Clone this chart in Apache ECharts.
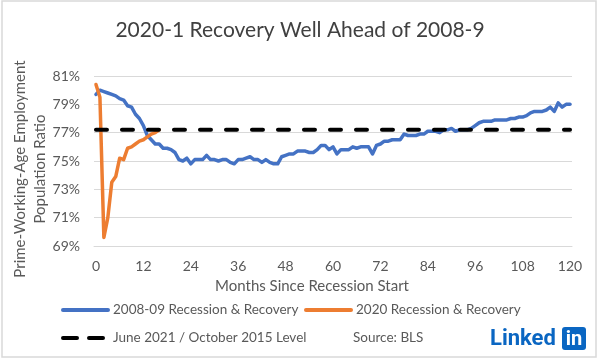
<!DOCTYPE html>
<html>
<head>
<meta charset="utf-8">
<script src="https://cdn.jsdelivr.net/npm/echarts@6/dist/echarts.min.js"></script>
<style>
html,body{margin:0;padding:0;background:#fff;}
#chart{width:600px;height:361px;}
</style>
</head>
<body>
<div id="chart"></div>
<script>
// Months since recession start (category axis)
const months = [];
for (let m = 0; m <= 120; m++) months.push(String(m));

// 2008-09 recession & recovery, prime-age employment-population ratio (%)
const recession2008 = [
  79.7, 80.0, 79.9, 79.8, 79.7, 79.6, 79.4, 79.3, 78.9, 78.8,
  78.3, 78.0, 77.5, 76.8, 76.5, 76.2, 76.2, 75.9, 75.9, 75.8,
  75.6, 75.1, 75.0, 75.2, 74.8, 75.1, 75.1, 75.1, 75.4, 75.1,
  75.1, 75.0, 75.1, 75.1, 74.9, 74.8, 75.1, 75.1, 75.2, 75.3,
  75.1, 75.1, 74.9, 75.1, 74.9, 74.8, 74.8, 75.3, 75.4, 75.5,
  75.5, 75.7, 75.7, 75.7, 75.6, 75.6, 75.8, 76.1, 76.1, 75.8,
  76.0, 75.5, 75.8, 75.8, 75.8, 76.0, 75.9, 76.0, 76.0, 76.0,
  75.5, 76.1, 76.2, 76.4, 76.4, 76.5, 76.5, 76.5, 76.9, 76.8,
  76.8, 76.8, 76.9, 76.9, 77.1, 77.1, 77.1, 77.0, 77.2, 77.2,
  77.3, 77.1, 77.2, 77.2, 77.2, 77.3, 77.5, 77.7, 77.8, 77.8,
  77.8, 77.9, 77.9, 77.9, 77.9, 78.0, 78.0, 78.1, 78.1, 78.2,
  78.4, 78.5, 78.5, 78.5, 78.6, 78.8, 78.5, 79.1, 78.8, 79.0,
  79.0
];

// 2020 recession & recovery (%)
const recession2020 = [
  80.4, 79.5, 69.6, 71.0, 73.5, 73.9, 75.2, 75.1, 75.9, 76.0,
  76.2, 76.4, 76.5, 76.7, 76.9, 77.0, 77.2
];

// June 2021 / October 2015 level (%), drawn from first to last month
const levelMonths = ['0', '120'];
const levelValues = [77.2, 77.2];

const yTicks = { min: 69, max: 81, interval: 2 };

const names = {
  s1: '2008-09 Recession & Recovery',
  s2: '2020 Recession & Recovery',
  s3: 'June 2021 / October 2015 Level'
};

const FONT = 'Lato';
const chart = echarts.init(document.getElementById('chart'), null, {renderer: 'canvas'});

const legendBase = {
  orient: 'horizontal',
  padding: 0,
  itemWidth: 45,
  itemHeight: 14,
  itemGap: 10,
  textStyle: {fontFamily: FONT, fontSize: 13.5, color: '#595959'},
  itemStyle: {opacity: 0},
  selectedMode: false
};

chart.setOption({
  animation: false,
  backgroundColor: '#ffffff',
  title: {
    text: '2020-1 Recovery Well Ahead of 2008-9',
    left: 'center',
    top: 15,
    textStyle: {fontFamily: FONT, fontSize: 21, fontWeight: 'normal', color: '#404040'}
  },
  grid: {left: 94, right: 28, top: 76, bottom: 115},
  legend: [
    Object.assign({}, legendBase, {data: [names.s1], left: 61, top: 303, lineStyle: {width: 4, opacity: 1}}),
    Object.assign({}, legendBase, {data: [names.s2], left: 304, top: 303, lineStyle: {width: 4, opacity: 1}}),
    Object.assign({}, legendBase, {data: [names.s3], left: 61, top: 331, lineStyle: {width: 4, opacity: 1, type: [14, 12], cap: 'round'}})
  ],
  xAxis: {
    type: 'category',
    data: months,
    boundaryGap: true,
    axisLine: {show: true, lineStyle: {color: '#d9d9d9', width: 1}},
    axisTick: {show: false},
    axisLabel: {
      interval: 11,
      margin: 13,
      fontFamily: FONT, fontSize: 14, color: '#595959'
    },
    splitLine: {show: false}
  },
  yAxis: {
    type: 'value',
    min: yTicks.min,
    max: yTicks.max,
    interval: yTicks.interval,
    axisLine: {show: false},
    axisTick: {show: false},
    axisLabel: {
      formatter: '{value}%',
      margin: 14,
      fontFamily: FONT, fontSize: 14, color: '#595959'
    },
    splitLine: {lineStyle: {color: '#d9d9d9', width: 1}}
  },
  series: [
    {
      name: names.s1,
      type: 'line',
      data: recession2008,
      symbol: 'none',
      lineStyle: {color: '#4472C4', width: 3.5, join: 'round', cap: 'round'},
      itemStyle: {color: '#4472C4'},
      z: 2
    },
    {
      name: names.s2,
      type: 'line',
      data: recession2020,
      symbol: 'none',
      lineStyle: {color: '#ED7D31', width: 3.5, join: 'round', cap: 'round'},
      itemStyle: {color: '#ED7D31'},
      z: 3
    },
    {
      name: names.s3,
      type: 'line',
      data: levelMonths.map((m, i) => [m, levelValues[i]]),
      symbol: 'none',
      lineStyle: {color: '#000000', width: 4, type: [11, 15], cap: 'round'},
      itemStyle: {color: '#000000'},
      z: 4
    }
  ],
  graphic: [
    {
      type: 'rect',
      shape: {x: 2, y: 1, width: 594, height: 356},
      style: {fill: 'none', stroke: '#d9d9d9', lineWidth: 1.5},
      silent: true,
      z: -10
    },
    {
      type: 'text',
      x: 30.5, y: 169,
      rotation: Math.PI / 2,
      style: {
        text: 'Prime-Working-Age Employment\nPopulation Ratio',
        fontFamily: FONT, fontSize: 15, fill: '#595959',
        align: 'center', verticalAlign: 'middle', lineHeight: 20
      }
    },
    {
      type: 'text',
      x: 312, y: 286,
      style: {
        text: 'Months Since Recession Start',
        fontFamily: FONT, fontSize: 15, fill: '#595959',
        align: 'center', verticalAlign: 'middle'
      }
    },
    {
      type: 'text',
      x: 353, y: 338,
      style: {
        text: 'Source: BLS',
        fontFamily: FONT, fontSize: 13.5, fill: '#595959',
        align: 'left', verticalAlign: 'middle'
      }
    },
    {
      type: 'text',
      x: 490, y: 339,
      style: {
        text: 'Linked',
        fontFamily: 'Roboto', fontSize: 22, fontWeight: 'bold', fill: '#0A66C2',
        align: 'left', verticalAlign: 'middle'
      }
    },
    {
      type: 'rect',
      shape: {x: 562, y: 327, width: 24, height: 23, r: 3},
      style: {fill: '#0A66C2'}
    },
    {
      type: 'text',
      x: 574, y: 340,
      style: {
        text: 'in',
        fontFamily: 'Roboto', fontSize: 20, fontWeight: 'bold', fill: '#ffffff',
        align: 'center', verticalAlign: 'middle'
      }
    }
  ]
});
</script>
</body>
</html>
